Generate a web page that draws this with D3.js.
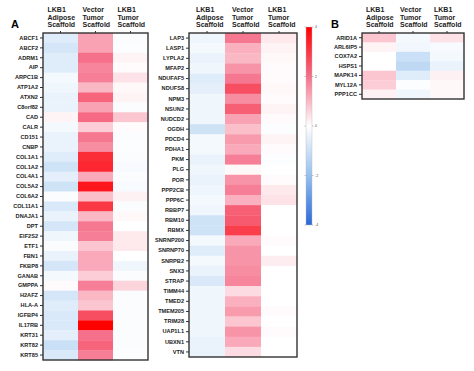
<!DOCTYPE html>
<html><head><meta charset="utf-8">
<script src="https://cdn.jsdelivr.net/npm/d3@7"></script>
<style>body{margin:0;background:#fff}svg{display:block;font-family:"Liberation Sans",Arial,sans-serif}</style>
</head><body><svg id="c" width="474" height="371"></svg>
<script>
const columns = ["LKB1 Adipose Scaffold","Vector Tumor Scaffold","LKB1 Tumor Scaffold"];
const genesA = ["ABCF1","ABCF2","ADRM1","AIP","ARPC1B","ATP1A2","ATXN2","C8orf82","CAD","CALR","CD151","CNBP","COL1A1","COL1A2","COL4A1","COL5A2","COL6A2","COL11A1","DNAJA1","DPT","EIF2S2","ETF1","FBN1","FKBP8","GANAB","GMPPA","H2AFZ","HLA-A","IGFBP4","IL17RB","KRT31","KRT82","KRT85"];
const adiposeA = [-0.6,-0.8,-0.6,-0.6,-0.2,-0.3,-0.4,-0.4,0.15,-0.2,-0.4,-0.4,-0.6,-0.9,-0.5,-0.9,-0.1,-0.7,-0.4,-0.8,-0.3,-0.1,-0.4,-0.8,-0.2,0.05,-0.8,-0.6,-0.7,-0.7,-0.5,-1.0,-0.7];
const vectorA = [1.3,1.3,2.0,1.7,1.8,1.0,2.2,1.3,2.1,0.7,1.9,1.6,3.2,3.3,1.2,3.6,0.9,3.0,1.0,1.9,1.8,0.8,1.2,1.2,0.7,1.8,1.0,0.8,2.6,4.0,2.0,2.2,1.8];
const tumorA = [-0.1,-0.05,0.15,0.05,0.4,0.1,0.15,-0.1,0.8,0.05,-0.1,-0.05,-0.1,-0.15,-0.1,-0.15,0.2,-0.1,0.1,0,0.3,0.3,0,-0.3,-0.1,0.6,-0.1,-0.1,-0.1,-0.1,-0.1,-0.1,-0.05];

const genesM = ["LAP3","LASP1","LYPLA2","MFAP2","NDUFAF5","NDUFS8","NPM3","NSUN2","NUDCD2","OGDH","PDCD4","PDHA1","PKM","PLG","POR","PPP2CB","PPP6C","RBBP7","RBM10","RBMX","SNRNP200","SNRNP70","SNRPB2","SNX3","STRAP","TIMM44","TMED2","TMEM205","TRIM28","UAP1L1","UBXN1","VTN"];
const adiposeM = [-0.3,-0.2,-0.4,-0.3,-0.6,-0.5,-0.3,-0.3,-0.3,-0.9,-0.2,-0.2,-0.4,-0.3,-0.4,-0.3,-0.2,-0.3,-0.9,-0.9,-0.2,-0.6,-0.2,-0.4,-0.7,-0.3,-0.3,-0.3,-0.3,-0.3,-0.4,-0.4];
const vectorM = [1.9,1.1,1.0,1.5,1.9,2.6,1.6,2.3,1.3,0.9,1.4,1.2,1.8,0.1,1.5,1.8,1.1,2.3,2.4,2.9,1.2,1.5,1.5,1.6,1.7,0.5,1.1,1.4,0.8,1.5,1.2,0.5];
const tumorM = [0.3,0.15,0.1,0.05,0.05,0.1,0.05,0.15,0.05,-0.05,0.15,0.05,-0.05,0,0.05,0.3,0.4,0,0,0,0.05,0,0.25,0,0,0,0,0.05,0,0.05,0,0];

const genesB = ["ARID1A","ARL6IP5","COX7A2","HSPS1","MAPK14","MYL12A","PPP1CC"];
const adiposeB = [0.8,0.15,0,0,0.8,0.7,0.2];
const vectorB = [-0.2,-0.25,-1.0,-1.2,-0.6,-0.05,-0.3];
const tumorB = [0.4,-0.15,-0.2,-0.4,0.2,0.1,0.1];

const colorTicks = [4,2,0,-2,-4];

const svg = d3.select("#c");
const color = d3.scaleLinear().domain([-4,-2,0,2,4])
  .range(["#2a68d8","#94c0ee","#ffffff","#f5708a","#ff0000"]).clamp(true);

function panel(opts){
  const {genes, vals, x0, x1, y0, y1, label, lx, ly, hdrOff} = opts;
  const x = d3.scaleBand().domain(columns).range([x0,x1]);
  const y = d3.scaleBand().domain(genes).range([y0,y1]);
  const g = svg.append("g");
  const cells = [];
  genes.forEach((gn,i)=>columns.forEach((c,j)=>cells.push({g:gn,c:c,v:vals[j][i]})));
  g.selectAll("rect.cell").data(cells).join("rect")
    .attr("x",d=>x(d.c)).attr("y",d=>y(d.g))
    .attr("width",x.bandwidth()+0.3).attr("height",y.bandwidth()+0.3)
    .attr("fill",d=>color(d.v));
  g.append("rect").attr("x",x0).attr("y",y0).attr("width",x1-x0).attr("height",y1-y0)
    .attr("fill","none").attr("stroke","#333").attr("stroke-width",1.4);
  const ay = g.append("g").attr("transform",`translate(${x0},0)`)
    .call(d3.axisLeft(y).tickSize(3).tickPadding(2));
  ay.select(".domain").remove();
  ay.selectAll("line").attr("stroke","#333");
  ay.selectAll("text").attr("font-size",5.6).attr("font-weight","bold").attr("fill","#222");
  const ax = g.append("g").attr("transform",`translate(0,${y0})`)
    .call(d3.axisTop(x).tickSize(2).tickFormat(""));
  ax.select(".domain").remove();
  ax.selectAll("line").attr("stroke","#333");
  columns.forEach(c=>{
    const parts = c.split(" ");
    const t = g.append("text").attr("font-size",7).attr("font-weight","bold").attr("fill","#222");
    parts.forEach((p,k)=>t.append("tspan").attr("x",x(c)+x.bandwidth()/2-hdrOff).attr("y",12+k*7.6).text(p));
  });
  if(label) g.append("text").attr("x",lx).attr("y",ly).attr("font-size",11).attr("font-weight","bold").attr("text-anchor","middle").text(label);
}

panel({genes:genesA, vals:[adiposeA,vectorA,tumorA], x0:43, x1:148, y0:33, y1:360, label:"A", lx:15, ly:28, hdrOff:13});
panel({genes:genesM, vals:[adiposeM,vectorM,tumorM], x0:189, x1:297, y0:33, y1:357, label:null, hdrOff:11});
panel({genes:genesB, vals:[adiposeB,vectorB,tumorB], x0:362, x1:464, y0:33, y1:99, label:"B", lx:335, ly:28, hdrOff:13});

// colorbar
const cy = d3.scaleLinear().domain([4,-4]).range([27,225]);
const defs = svg.append("defs");
const grad = defs.append("linearGradient").attr("id","cb").attr("x1",0).attr("x2",0).attr("y1",0).attr("y2",1);
d3.range(4,-4.01,-0.5).forEach(v=>grad.append("stop").attr("offset",(cy(v)-27)/198).attr("stop-color",color(v)));
svg.append("rect").attr("x",306).attr("y",27).attr("width",6).attr("height",198).attr("fill","url(#cb)")
  .attr("stroke","#bbb").attr("stroke-width",0.4);
const cb = svg.append("g");
cb.selectAll("line.l").data(colorTicks).join("line").attr("x1",304.5).attr("x2",306).attr("y1",d=>cy(d)).attr("y2",d=>cy(d)).attr("stroke","#888").attr("stroke-width",0.5);
cb.selectAll("line.r").data(colorTicks).join("line").attr("x1",312).attr("x2",313.5).attr("y1",d=>cy(d)).attr("y2",d=>cy(d)).attr("stroke","#888").attr("stroke-width",0.5);
cb.selectAll("text").data(colorTicks).join("text").attr("x",315).attr("y",d=>cy(d)+1.2).attr("font-size",3.5).attr("fill","#555").text(d=>d);
</script></body></html>
